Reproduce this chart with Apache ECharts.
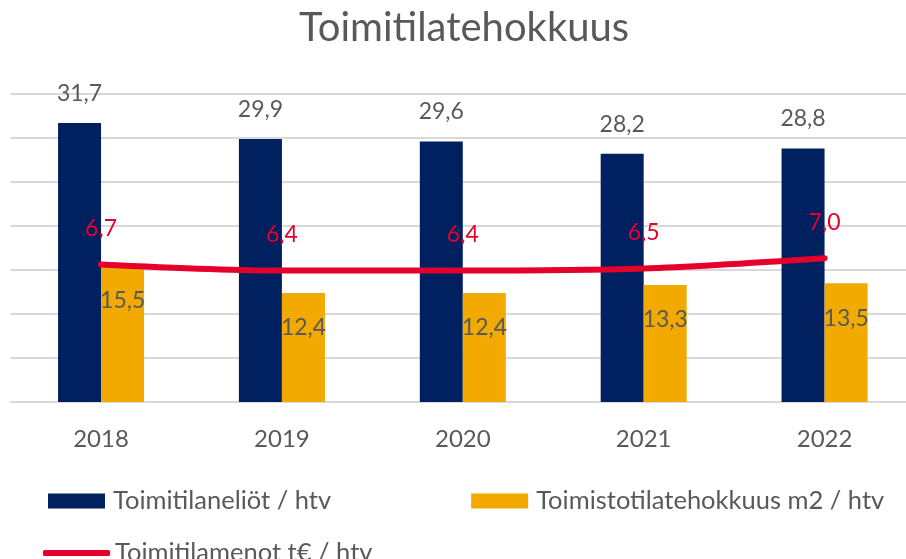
<!DOCTYPE html>
<html>
<head>
<meta charset="utf-8">
<script src="https://cdn.jsdelivr.net/npm/echarts@6/dist/echarts.min.js"></script>
<style>
    html, body {margin: 0; padding: 0; background: #fff; overflow: hidden;}
    /* plot area runs past the right edge like in the original, so the div is a bit wider than the window */
    #chart {width: 915px; height: 559px;}
</style>
</head>
<body>
<div id="chart"></div>
<script>
var years = ['2018', '2019', '2020', '2021', '2022'];
var tilaneliot = [31.7, 29.9, 29.6, 28.2, 28.8];
var tehokkuus = [15.5, 12.4, 12.4, 13.3, 13.5];
var menot = [6.7, 6.4, 6.4, 6.5, 7.0];

var FONT = 'Lato';
var grey = '#595959';
function fi(p) {
    return p.value.toFixed(1).replace('.', ',');
}

var chart = echarts.init(document.getElementById('chart'));
var option = {
    animation: false,
    textStyle: {fontFamily: FONT},
    title: {
        text: 'Toimitilatehokkuus',
        left: 294,
        top: 3,
        textStyle: {color: grey, fontSize: 40, fontWeight: 'normal', fontFamily: FONT}
    },
    legend: [
        {
            data: ['Toimitilaneliöt / htv', 'Toimistotilatehokkuus m2 / htv'],
            left: 43,
            top: 483,
            itemWidth: 57,
            itemHeight: 15,
            itemGap: 140,
            icon: 'rect',
            textStyle: {color: grey, fontSize: 25.5, fontFamily: FONT, padding: [0, 0, 0, 3]}
        },
        {
            data: [{name: 'Toimitilamenot t€ / htv', icon: 'roundRect'}],
            left: 38,
            top: 535,
            itemWidth: 67,
            itemHeight: 6,
            textStyle: {color: grey, fontSize: 25.5, fontFamily: FONT}
        }
    ],
    grid: {left: 10.6, right: 0, top: 94, bottom: 157, containLabel: false},
    xAxis: {
        type: 'category',
        data: years,
        axisTick: {show: false},
        axisLine: {lineStyle: {color: '#d9d9d9', width: 2}},
        axisLabel: {color: grey, fontSize: 24, margin: 25, fontFamily: FONT}
    },
    yAxis: [
        {
            type: 'value',
            min: 0,
            max: 35,
            interval: 5,
            axisLabel: {show: false},
            axisLine: {show: false},
            axisTick: {show: false},
            splitLine: {lineStyle: {color: '#d9d9d9', width: 2}}
        },
        {
            type: 'value',
            min: 0,
            max: 15,
            show: false,
            splitLine: {show: false}
        }
    ],
    series: [
        {
            name: 'Toimitilaneliöt / htv',
            type: 'bar',
            data: tilaneliot,
            barWidth: 43,
            barGap: '0%',
            itemStyle: {color: '#002060'},
            label: {
                show: true,
                position: 'top',
                distance: 18,
                color: grey,
                fontSize: 23,
                fontFamily: FONT,
                formatter: fi
            }
        },
        {
            name: 'Toimistotilatehokkuus m2 / htv',
            type: 'bar',
            data: tehokkuus,
            barWidth: 43,
            itemStyle: {color: '#f2a900'},
            label: {
                show: true,
                position: [-1, 35],
                align: 'left',
                verticalAlign: 'middle',
                color: grey,
                fontSize: 23,
                fontFamily: FONT,
                formatter: fi
            }
        },
        {
            name: 'Toimitilamenot t€ / htv',
            type: 'line',
            yAxisIndex: 1,
            data: menot,
            smooth: 0.3,
            symbol: 'circle',
            symbolSize: 1,
            z: 5,
            itemStyle: {color: '#e4002b'},
            lineStyle: {color: '#e4002b', width: 6, cap: 'round'},
            label: {
                show: true,
                position: 'top',
                distance: 24,
                color: '#e4002b',
                fontSize: 23,
                fontFamily: FONT,
                formatter: fi
            }
        }
    ]
};
chart.setOption(option);
</script>
</body>
</html>
